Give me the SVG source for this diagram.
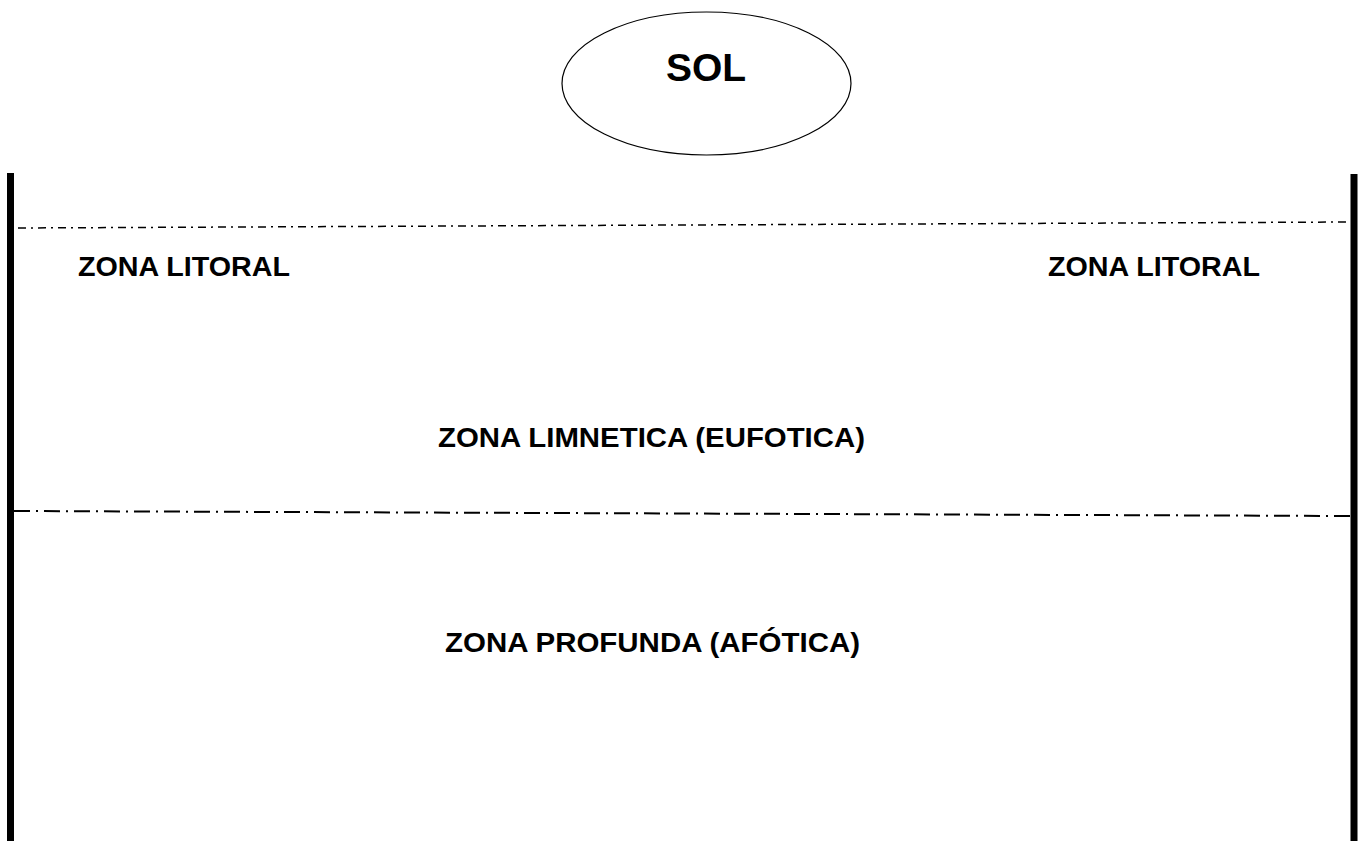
<svg xmlns="http://www.w3.org/2000/svg" width="1360" height="841" viewBox="0 0 1360 841">
<style>
.lbl{font-family:"Liberation Sans",Arial,sans-serif;font-weight:bold;fill:#000}
.wall{stroke:#000;stroke-width:7;fill:none}
</style>
<rect width="1360" height="841" fill="#fff"/>
<g id="walls">
<line class="wall" x1="10.5" y1="173" x2="10.5" y2="841"/>
<line class="wall" x1="1354" y1="174" x2="1354" y2="841"/>
</g>
<g id="boundaries">
<line x1="18" y1="228" x2="1350" y2="222" stroke="#000" stroke-width="1.5" stroke-dasharray="8 5 2 5"/>
<line x1="14" y1="511" x2="1350" y2="516" stroke="#000" stroke-width="2" stroke-dasharray="16 6 2 6"/>
</g>
<g id="sol">
<ellipse cx="706.5" cy="83.5" rx="144.5" ry="71.5" fill="#fff" stroke="#000" stroke-width="1.2"/>
<text class="lbl" x="706" y="81" font-size="39" text-anchor="middle">SOL</text>
</g>
<g id="litoral-left">
<text class="lbl" x="78" y="276" font-size="27" textLength="212" lengthAdjust="spacingAndGlyphs">ZONA LITORAL</text>
</g>
<g id="litoral-right">
<text class="lbl" x="1048" y="276" font-size="27" textLength="212" lengthAdjust="spacingAndGlyphs">ZONA LITORAL</text>
</g>
<g id="limnetica">
<text class="lbl" x="438" y="447" font-size="27" textLength="427" lengthAdjust="spacingAndGlyphs">ZONA LIMNETICA (EUFOTICA)</text>
</g>
<g id="profunda">
<text class="lbl" x="445" y="652" font-size="27" textLength="415" lengthAdjust="spacingAndGlyphs">ZONA PROFUNDA (AFÓTICA)</text>
</g>
</svg>
